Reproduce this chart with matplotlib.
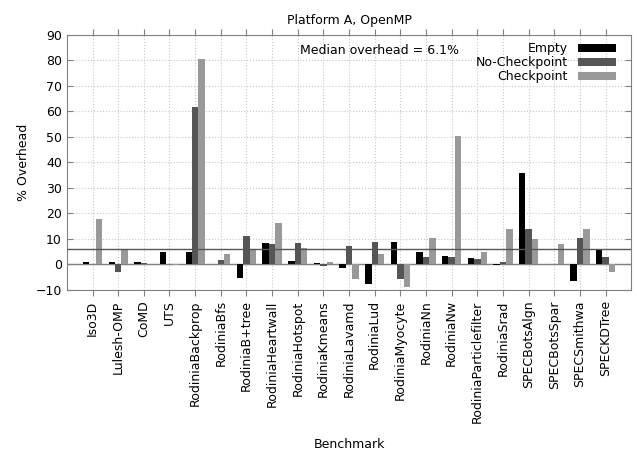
import numpy as np
import matplotlib
matplotlib.use('Agg')
import matplotlib.pyplot as plt

# Benchmark names and overheads (%)
benchmarks = ['Iso3D', 'Lulesh-OMP', 'CoMD', 'UTS', 'RodiniaBackprop', 'RodiniaBfs',
              'RodiniaB+tree', 'RodiniaHeartwall', 'RodiniaHotspot', 'RodiniaKmeans',
              'RodiniaLavamd', 'RodiniaLud', 'RodiniaMyocyte', 'RodiniaNn', 'RodiniaNw',
              'RodiniaParticlefilter', 'RodiniaSrad', 'SPECBotsAlgn', 'SPECBotsSpar',
              'SPECSmithwa', 'SPECKDTree']

empty = [1.0, 1.0, 0.8, 4.7, 5.0, 0.3, -5.2, 8.5, 1.4, 0.4,
         -1.4, -7.5, 8.9, 5.0, 3.3, 2.4, -0.2, 36.0, 0.0, -6.5, 6.0]
no_checkpoint = [0.2, -3.0, 0.4, 0.0, 61.7, 1.7, 11.3, 8.2, 8.5, -0.5,
                 7.3, 8.6, -5.9, 3.1, 3.0, 2.0, 0.8, 13.7, 0.2, 10.2, 3.1]
checkpoint = [17.7, 6.1, 0.1, -0.2, 80.4, 4.1, 5.9, 16.2, 6.5, 1.0,
              -5.9, 4.2, -9.0, 10.2, 50.3, 4.8, 13.7, 9.8, 8.2, 13.9, -3.0]
median_overhead = 6.1

series = [('Empty', empty, '#000000'),
          ('No-Checkpoint', no_checkpoint, '#555555'),
          ('Checkpoint', checkpoint, '#999999')]

n = len(benchmarks)
x = np.arange(n)
width = 0.25

fig = plt.figure(figsize=(6.37, 4.53), dpi=100)
ax = fig.add_axes([0.105, 0.36, 0.886, 0.563])

for j, (label, vals, color) in enumerate(series):
    ax.bar(x + (j - 1) * width, vals, width, color=color, label=label,
           linewidth=0, zorder=3)

ax.axhline(0, color='#808080', linewidth=1, zorder=2)
ax.axhline(median_overhead, color='#555555', linewidth=1, zorder=4)

ax.set_xlim(-1, n)
ax.set_ylim(-10, 90)
ax.set_yticks(range(-10, 91, 10))
ax.set_xticks(x)
ax.set_xticklabels(benchmarks, rotation=90, fontsize=9)
ax.tick_params(axis='y', labelsize=9, direction='in', right=True, length=4,
               color='#808080')
ax.tick_params(axis='x', direction='out', top=True, length=4, color='#808080')
ax.grid(True, linestyle=':', color='#c8c8c8', linewidth=0.8, zorder=0)
for s in ax.spines.values():
    s.set_color('#808080')

ax.set_title('Platform A, OpenMP', fontsize=9, pad=8)
ax.set_ylabel('% Overhead', fontsize=9)
ax.set_xlabel('Benchmark', fontsize=9, labelpad=11)

ax.text(0.413, 0.937, 'Median overhead = %.1f%%' % median_overhead,
        transform=ax.transAxes, fontsize=9, va='center', ha='left', zorder=5)

leg = ax.legend(loc='upper right', bbox_to_anchor=(0.9876, 1.006), frameon=False,
                fontsize=9, markerfirst=False, handlelength=3.0, handleheight=0.6,
                labelspacing=0.08, handletextpad=0.8, borderaxespad=0.3)
for t in leg.get_texts():
    t.set_ha('right')

fig.savefig('out.png', dpi=100)
